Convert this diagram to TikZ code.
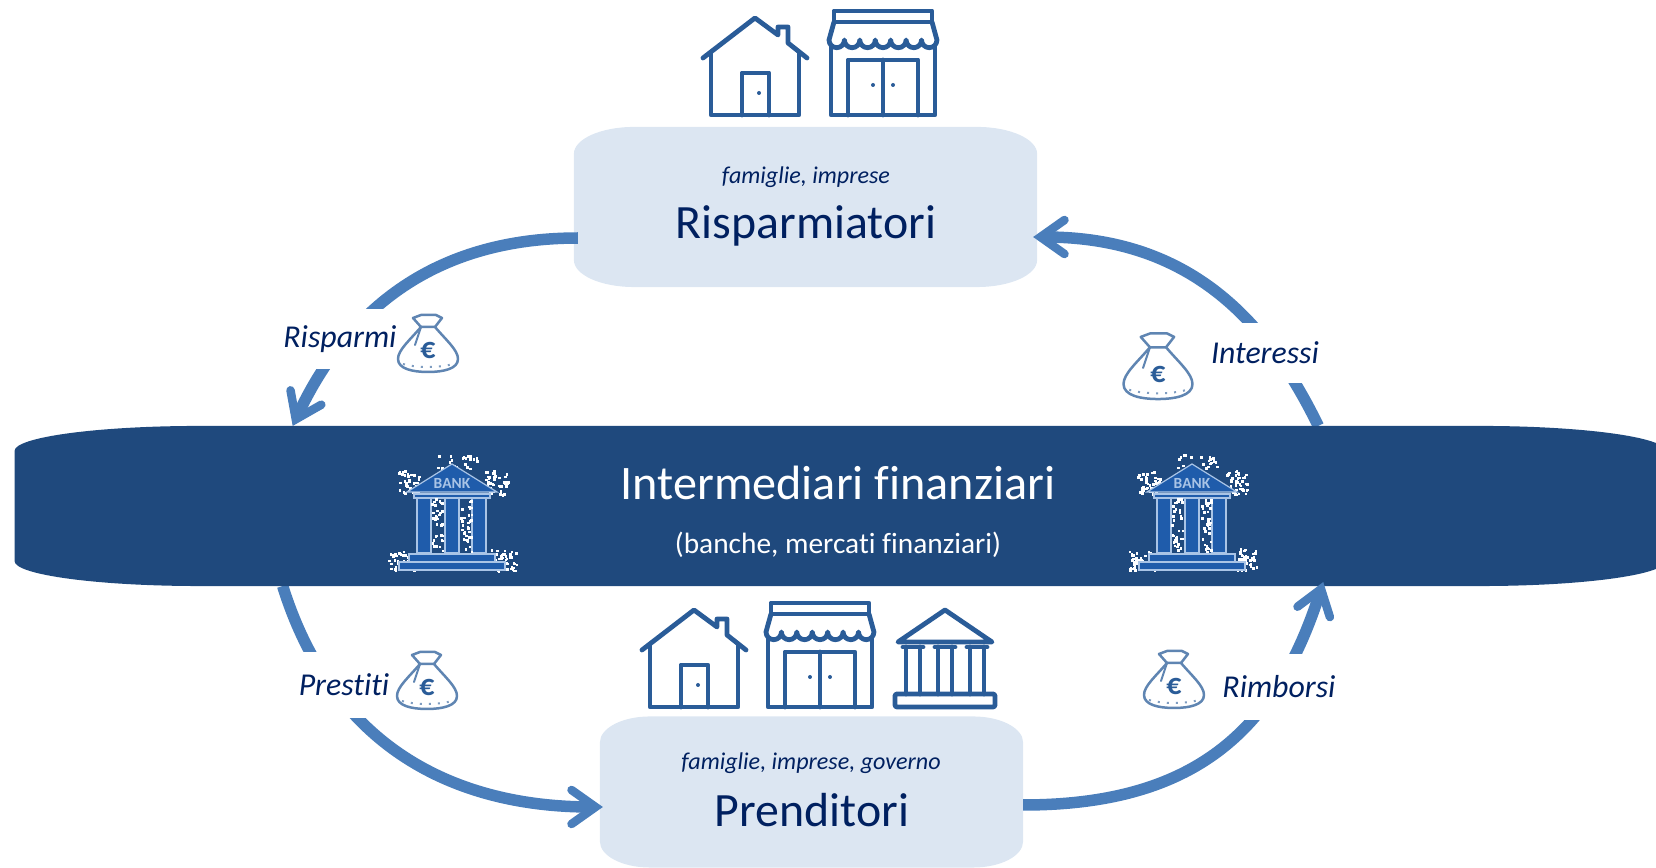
\documentclass[tikz,border=0pt]{standalone}
\usepackage{fontspec}
\setmainfont{Carlito}[Ligatures=NoCommon]
\usetikzlibrary{arrows.meta}

\definecolor{bandblue}{HTML}{1F497D}
\definecolor{boxblue}{HTML}{DCE6F2}
\definecolor{flowblue}{HTML}{4A7EBB}
\definecolor{inkblue}{HTML}{002060}
\definecolor{iconblue}{HTML}{2A5C98}
\definecolor{bankblue}{HTML}{1F5CAB}
\definecolor{banklight}{HTML}{A9C4E6}

% white grains round the bank icons
\newcommand{\grains}[5]{%
  \foreach \k in {1,...,#5} {
    \pgfmathsetmacro{\gx}{#1+rnd*#3}
    \pgfmathsetmacro{\gy}{#2+rnd*#4}
    \fill[white] (\gx,\gy) rectangle +(2.6,2.6);
  }}

% filled box with elliptic corners over a plain node
\newcommand{\softbox}[4]{%
  \fill[#1] ([xshift=#3 cm]#2.north west) -- ([xshift=-#3 cm]#2.north east)
    arc[start angle=90,end angle=0,x radius=#3 cm,y radius=#4 cm]
    -- ([yshift=#4 cm]#2.south east)
    arc[start angle=0,end angle=-90,x radius=#3 cm,y radius=#4 cm]
    -- ([xshift=#3 cm]#2.south west)
    arc[start angle=-90,end angle=-180,x radius=#3 cm,y radius=#4 cm]
    -- ([yshift=-#4 cm]#2.north west)
    arc[start angle=180,end angle=90,x radius=#3 cm,y radius=#4 cm] -- cycle;}

\tikzset{
  icon/.style={draw=iconblue,line width=0.048cm,line join=round,line cap=round},
  flow/.style={draw=flowblue,line width=0.115cm},
  flowhead/.style={flow,-{Straight Barb[length=0.24cm,width=0.34cm,line width=0.085cm,line cap=round,line join=miter]}},
  anchorbox/.style={minimum width=#1,inner sep=0pt,outer sep=0pt},
  small/.style={text=inkblue,font=\fontsize{6.85}{9}\selectfont\itshape},
  big/.style={text=inkblue,font=\fontsize{13.6}{15}\selectfont},
  flowlabel/.style={fill=white,text=inkblue,inner sep=1pt,minimum height=0.6cm,
    font=\fontsize{9.05}{10}\selectfont\itshape},
  pics/house/.style={code={
    \draw[icon] (-52,-57) -- (0,-97) -- (23,-80) -- (23,-88) -- (33,-88) -- (33,-72) -- (52,-57);
    \draw[icon] (-44,-63) -- (-44,0) -- (44,0) -- (44,-63);
    \draw[icon] (-13,0) -- (-13,-42) -- (14,-42) -- (14,0);
    \fill[iconblue] (4,-22) circle[radius=2];
  }},
  pics/shop/.style={code={
    \draw[icon] (-49,-93) rectangle (49,-104);
    \draw[icon] (-49,-93) -- (-54,-75)
      foreach \k in {0,...,6} { arc[start angle=180,end angle=0,radius=7.71] }
      -- (49,-93);
    \draw[icon] (-52,-68) -- (-52,0) -- (52,0) -- (52,-68);
    \draw[icon] (-35,0) -- (-35,-55) -- (35,-55) -- (35,0);
    \draw[icon] (0,-55) -- (0,0);
    \fill[iconblue] (-10,-30) circle[radius=2];
    \fill[iconblue] (10,-30) circle[radius=2];
  }},
  pics/temple/.style={code={
    \draw[icon] (-47,-65) -- (0,-97) -- (47,-65) -- cycle;
    \foreach \c in {-32,0,32} {
      \draw[icon] (\c-10,-60) -- (\c+10,-60);
      \draw[icon] (\c-7,-60) -- (\c-7,-13);
      \draw[icon] (\c+7,-60) -- (\c+7,-13);
    }
    \draw[icon,rounded corners=0.02cm] (-50,-13) rectangle (50,0);
  }},
  pics/moneybag/.style={code={
    \draw[icon,fill=white,draw=iconblue!75,line width=0.025cm] (-7,-18) .. controls (-18,-5) and (-30,5) .. (-30,14)
      .. controls (-30,24) and (-15,27) .. (0,27)
      .. controls (15,27) and (30,24) .. (30,14)
      .. controls (30,5) and (18,-5) .. (7,-18) -- cycle;
    \draw[icon,draw=iconblue!75,line width=0.025cm] (-7,-18) -- (-15,-27) -- (-7,-30) -- (8,-30) -- (14,-27) -- (7,-18);
    \draw[icon,draw=iconblue!75,line width=0.02cm] (-7,-18) -- (-13,0);
    \draw[iconblue!60,line width=0.02cm,dotted] (-25,19) .. controls (-12,23) and (12,23) .. (25,19);
    \node[text=iconblue,inner sep=0pt,font=\fontsize{8.5}{9}\selectfont\bfseries] (-euro) at (0,6) {€};
  }},
  pics/bank/.style={code={
    \grains{-15}{-116}{40}{14}{26}
    \grains{-55}{-100}{22}{24}{46}
    \grains{33}{-100}{22}{24}{46}
    \grains{-64}{-20}{26}{20}{52}
    \grains{38}{-22}{26}{22}{52}
    \draw[fill=bankblue,draw=banklight,line width=0.012cm] (-45,-78) -- (0,-106) -- (45,-78) -- cycle;
    \draw[fill=bankblue,draw=banklight,line width=0.012cm] (-38,-76) rectangle (38,-72);
    \foreach \c in {-28,0,27} {
      \draw[fill=bankblue,draw=banklight,line width=0.012cm] (\c-7,-72) rectangle (\c+7,-17);
    }
    \draw[fill=bankblue,draw=banklight,line width=0.012cm] (-43,-16) rectangle (43,-8);
    \draw[fill=bankblue,draw=banklight,line width=0.012cm] (-53,-8) rectangle (53,0);
    \grains{-21}{-72}{11}{54}{34}
    \grains{8}{-72}{11}{54}{34}
    \node[text=banklight,inner sep=0pt,font=\fontsize{4.4}{5}\selectfont\bfseries] (-name) at (0,-87) {BANK};
  }},
}

\begin{document}
\begin{tikzpicture}[x=0.01cm,y=-0.01cm]
\useasboundingbox (0,0) rectangle (1656,868);
\pgfmathsetseed{4711}

% plain nodes that carry the three boxes
\node[anchorbox=4.63cm,minimum height=1.6cm] (risp) at (805.5,207) {};
\node[anchorbox=4.23cm,minimum height=1.51cm] (pren) at (811.5,792) {};
\node[anchorbox=16.5cm,minimum height=1.6cm] (band) at (840,506) {};

\softbox{boxblue}{risp}{0.6}{0.27}
\softbox{boxblue}{pren}{0.5}{0.26}

% connectors, the band goes over their ends
\draw[flowhead] ([xshift=0.04cm,yshift=-0.31cm]risp.west) .. controls +(-125,0) and +(62,-133) .. ([xshift=-5.47cm]band.north);
\draw[flowhead] ([xshift=4.78cm]band.north) .. controls +(-60,-124) and +(140,0) .. ([xshift=-0.04cm,yshift=-0.3cm]risp.east);
\draw[flowhead] ([xshift=-5.57cm]band.south) .. controls +(50,160) and +(-150,0) .. ([xshift=0.03cm,yshift=-0.15cm]pren.west);

\softbox{bandblue}{band}{1.85}{0.25}

\draw[flowhead] ([yshift=-0.13cm]pren.east) .. controls +(170,0) and +(-48,150) .. ([xshift=4.83cm,yshift=0.04cm]band.south);

\node[flowlabel] (rispLabel) at (340,339) {Risparmi};
\node[flowlabel] (intLabel) at (1265,353) {Interessi};
\node[flowlabel,minimum height=0.66cm] (prestLabel) at (344,685) {Prestiti};
\node[flowlabel,minimum height=0.66cm] (rimbLabel) at (1279,687) {Rimborsi};

\node[small] (rispNote) at (806,177) {famiglie, imprese};
\node[big] (rispName) at (806,226) {Risparmiatori};
\node[small] (prenNote) at (811,763) {famiglie, imprese, governo};
\node[big] (prenName) at (812,810) {Prenditori};
\node[text=white,font=\fontsize{13.7}{15}\selectfont] (bandName) at (838,483) {Intermediari finanziari};
\node[text=white,font=\fontsize{8.35}{10}\selectfont] (bandNote) at (838,545) {(banche, mercati finanziari)};

\pic (homeA) at (755,115) {house};
\pic (shopA) at (883,115) {shop};
\pic (homeB) at (694,707) {house};
\pic (shopB) at (820,707) {shop};
\pic (stateB) at (945,707) {temple};

\pic (bagA) at (428,345) {moneybag};
\pic[scale=1.15] (bagB) at (1158,368) {moneybag};
\pic (bagC) at (427,682) {moneybag};
\pic (bagD) at (1174,681) {moneybag};

\pic (bankA) at (452,570) {bank};
\pic (bankB) at (1192,570) {bank};
\end{tikzpicture}
\end{document}
